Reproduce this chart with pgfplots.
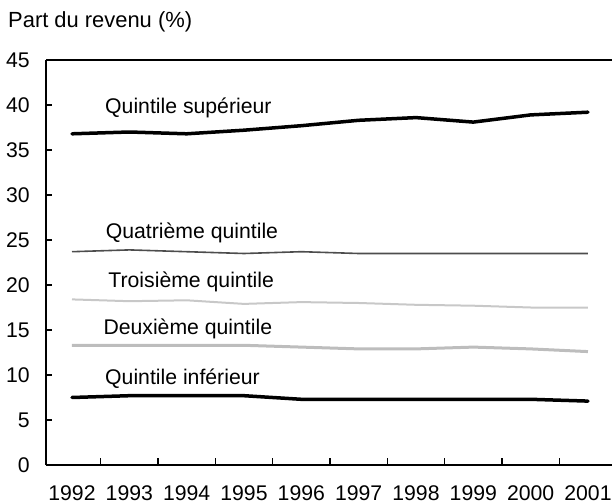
\documentclass[border=0pt]{standalone}
\usepackage{pgfplots}
\pgfplotsset{compat=1.18}
\usepackage{fontspec}
\setmainfont{Liberation Sans}
\definecolor{qfour}{HTML}{4D4D4D}
\definecolor{qthree}{HTML}{C8C8C8}
\definecolor{qtwo}{HTML}{BDBDBD}
\begin{document}
\begin{tikzpicture}
\useasboundingbox (-46bp,-39bp) rectangle (566bp,465bp);
\begin{axis}[
  at={(0,0)}, anchor=south west,
  scale only axis, width=566bp, height=405bp,
  xmin=-0.4535, xmax=9.419, ymin=0, ymax=45,
  font=\fontsize{21.3}{25}\selectfont,
  /pgf/number format/assume math mode=true,
  axis x line*=bottom, axis y line*=left,
  axis line style={line width=2bp, -},
  xtick={0,...,9},
  xticklabels={1992,1993,1994,1995,1996,1997,1998,1999,2000,2001},
  major x tick style={draw=none},
  minor xtick={0.5,1.5,...,8.5},
  minor x tick style={line width=1.5bp, black},
  ytick={0,5,...,45},
  major y tick style={line width=1.5bp, black},
  tick align=inside,
  major tick length=6bp, minor tick length=7bp,
  xticklabel style={inner sep=0pt, anchor=north, yshift=-20.5bp},
  yticklabel style={inner sep=0pt, anchor=east, xshift=-16bp},
  clip=false,
]
\draw[line width=1.7bp] (rel axis cs:0,1) -- (rel axis cs:1,1);
\addplot[black, line width=3.5bp, line join=round, line cap=round] coordinates {
 (0,36.8) (1,37.0) (2,36.8) (3,37.2) (4,37.7) (5,38.3) (6,38.6) (7,38.1) (8,38.9) (9,39.2)};
\addplot[qfour, line width=1.6bp, line join=round] coordinates {
 (0,23.7) (1,23.9) (2,23.7) (3,23.5) (4,23.7) (5,23.5) (6,23.5) (7,23.5) (8,23.5) (9,23.5)};
\addplot[qthree, line width=2bp, line join=round] coordinates {
 (0,18.4) (1,18.2) (2,18.3) (3,17.9) (4,18.1) (5,18.0) (6,17.8) (7,17.7) (8,17.5) (9,17.5)};
\addplot[qtwo, line width=3bp, line join=round] coordinates {
 (0,13.3) (1,13.3) (2,13.3) (3,13.3) (4,13.1) (5,12.9) (6,12.9) (7,13.1) (8,12.9) (9,12.6)};
\addplot[black, line width=3.5bp, line join=round, line cap=round] coordinates {
 (0,7.5) (1,7.7) (2,7.7) (3,7.7) (4,7.3) (5,7.3) (6,7.3) (7,7.3) (8,7.3) (9,7.1)};
\node[anchor=base west, inner sep=0pt] at (axis cs:0.576,39.1) {Quintile supérieur};
\node[anchor=base west, inner sep=0pt] at (axis cs:0.587,25.2) {Quatrième quintile};
\node[anchor=base west, inner sep=0pt] at (axis cs:0.632,19.7) {Troisième quintile};
\node[anchor=base west, inner sep=0pt] at (axis cs:0.546,14.5) {Deuxième quintile};
\node[anchor=base west, inner sep=0pt] at (axis cs:0.576,8.97) {Quintile inférieur};
\end{axis}
\node[anchor=base west, inner sep=0pt, font=\fontsize{22}{26}\selectfont] at (-38bp,437bp) {Part du revenu (\%)};
\end{tikzpicture}
\end{document}
